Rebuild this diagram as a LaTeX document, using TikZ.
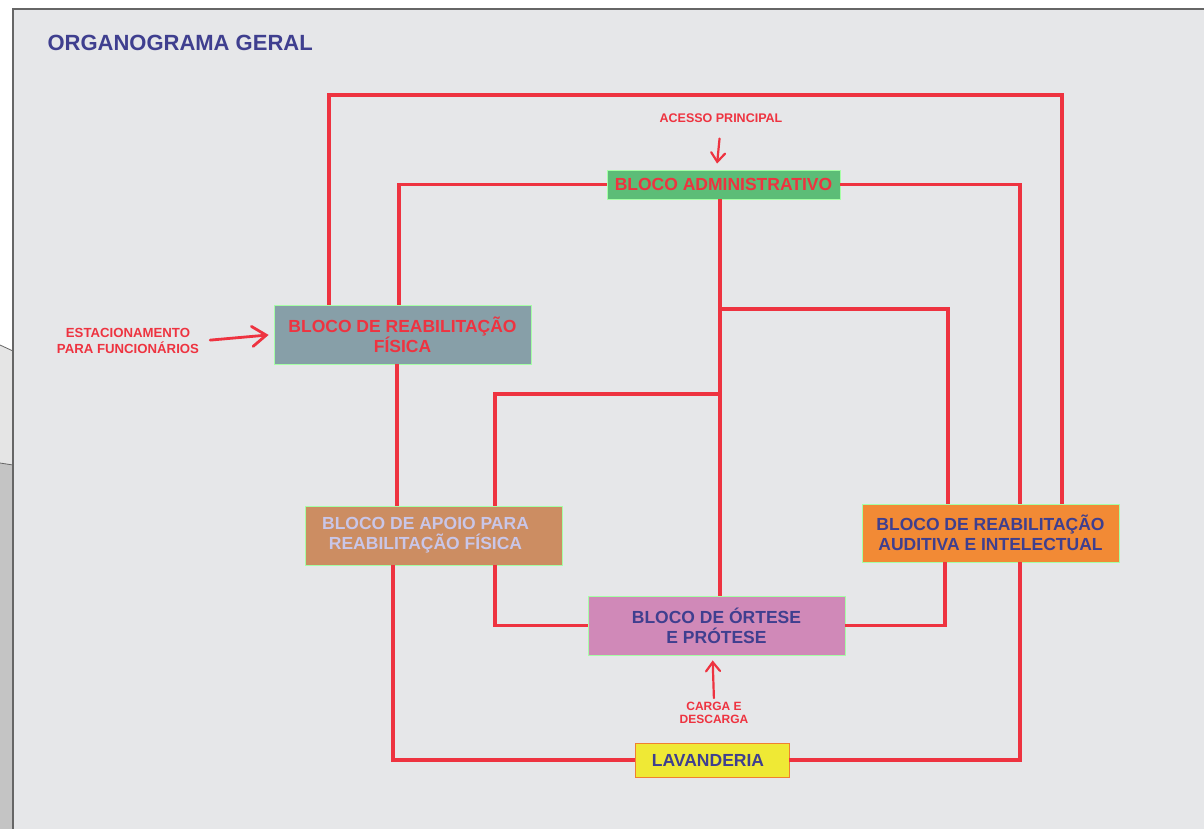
\documentclass[tikz,border=0pt]{standalone}
\usepackage{fontspec}
\setmainfont{Liberation Sans}
\usetikzlibrary{arrows.meta}

\definecolor{vermelho}{HTML}{EE3340}
\definecolor{azulescuro}{HTML}{3F3F8F}
\definecolor{lilas}{HTML}{C9C6E8}
\definecolor{fundo}{HTML}{E6E7E9}

\begin{document}
\begin{tikzpicture}[x=1pt,y=-1pt]
	\tikzstyle{bloco}=[inner sep=0pt,draw=green!35!white,line width=0.8pt,align=center,font=\fontsize{17.5}{20}\selectfont\bfseries];
	\tikzstyle{nota}=[inner sep=1pt,align=center,text=vermelho,font=\fontsize{12.5}{13.5}\selectfont\bfseries];
	\tikzstyle{fio}=[vermelho,line width=3.8pt];
	\tikzstyle{seta}=[vermelho,line width=2.2pt,line cap=round,-{Straight Barb[length=9pt,width=14pt,line cap=round]}];
	\useasboundingbox (0,0) rectangle (1204,829);
	%% page
	\fill[white] (0,0) rectangle (1204,829);
	\fill[black!10] (0,345) -- (13,351) -- (13,465) -- (0,463) -- cycle;
	\fill[black!23] (0,463) -- (13,465) -- (13,829) -- (0,829) -- cycle;
	\draw[black!60,line width=0.8pt] (0,345) -- (13,351) (0,463) -- (13,465);
	\fill[fundo] (13,9) rectangle (1204,829);
	\draw[black!60,line width=1.2pt] (13,829) -- (13,9) -- (1204,9);
	\node[anchor=west,text=azulescuro,font=\fontsize{22}{24}\selectfont\bfseries] (titulo) at (44,43) {ORGANOGRAMA GERAL};
	%% blocks
	\node[bloco,fill={rgb,255:red,92;green,189;blue,119},text=vermelho,minimum width=233pt,minimum height=29pt] (adm) at (723.5,184.5) {BLOCO ADMINISTRATIVO};
	\node[bloco,fill={rgb,255:red,135;green,159;blue,168},text=vermelho,minimum width=257pt,minimum height=59pt] (brf) at (402.5,334.5) {BLOCO DE REABILITAÇÃO\\FÍSICA};
	\node[bloco,fill={rgb,255:red,204;green,141;blue,98},text=lilas,minimum width=257pt,minimum height=59pt] (apoio) at (433.5,535.5) {BLOCO DE APOIO PARA\hspace*{16pt}\\REABILITAÇÃO FÍSICA\hspace*{16pt}};
	\node[bloco,fill={rgb,255:red,242;green,138;blue,53},text=azulescuro,minimum width=257pt,minimum height=58pt] (aud) at (990.5,533) {BLOCO DE REABILITAÇÃO\\AUDITIVA E INTELECTUAL};
	\node[bloco,fill={rgb,255:red,208;green,137;blue,184},text=azulescuro,minimum width=257pt,minimum height=59pt] (ort) at (716.5,625.5) {BLOCO DE ÓRTESE\\E PRÓTESE};
	\node[bloco,fill={rgb,255:red,239;green,233;blue,53},draw={rgb,255:red,240;green,128;blue,48},text=azulescuro,minimum width=154pt,minimum height=34pt] (lav) at (712,760) {LAVANDERIA\hspace*{8pt}};
	%% notes
	\node[nota] (acesso) at (721,118) {ACESSO PRINCIPAL};
	\node[nota,font=\fontsize{13.2}{16}\selectfont\bfseries] (estac) at (128,341) {ESTACIONAMENTO\\PARA FUNCIONÁRIOS};
	\node[nota,font=\fontsize{12}{13}\selectfont\bfseries] (carga) at (714,713) {CARGA E\\DESCARGA};
	\draw[seta,shorten <=15pt,shorten >=6pt] (acesso.south) -- ([xshift=-7pt]adm.north);
	\draw[seta,line width=2.8pt,-{Straight Barb[length=14pt,width=20pt,line cap=round]},shorten <=10pt,shorten >=5pt] (estac.east) -- (brf.west);
	\draw[seta,shorten <=3pt,shorten >=5pt] (carga.north) -- ([xshift=-4pt]ort.south);
	%% connections
	\coordinate (topo) at (1062,95);
	\coordinate (jd) at (720,309);
	\coordinate (je) at (720,394);
	\draw[fio] (brf.north -| 329,0) |- (topo) -- (aud.north -| topo);
	\draw[fio] (adm.west) -| (brf.north -| 399,0);
	\draw[fio] (brf.south -| 397,0) -- (apoio.north -| 397,0);
	\draw[fio] (adm.east) -| (aud.north -| 1020,0);
	\draw[fio] (aud.south -| 1020,0) |- (lav.east);
	\draw[fio] (adm.south -| jd) -- (ort.north -| jd);
	\draw[fio] (jd) -| (aud.north -| 948,0);
	\draw[fio] (je) -| (apoio.north -| 495,0);
	\draw[fio] (apoio.south -| 495,0) |- (ort.west);
	\draw[fio] (ort.east) -| (aud.south -| 945,0);
	\draw[fio] (apoio.south -| 393,0) |- (lav.west);
\end{tikzpicture}
\end{document}
